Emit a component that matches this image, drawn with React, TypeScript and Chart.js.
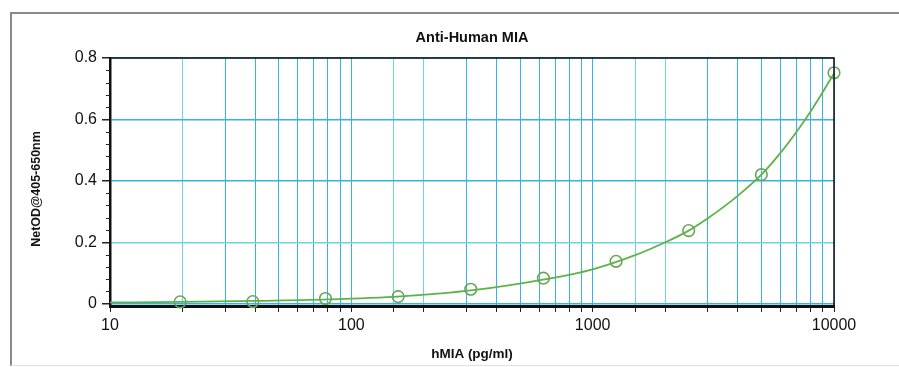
import React, { useEffect, useRef } from "react";
import { Chart, registerables } from "chart.js";

Chart.register(...registerables);

const chartTitle = "Anti-Human MIA";
const xTitle = "hMIA (pg/ml)";
const yTitle = "NetOD@405-650nm";

const stdConc = [19.53, 39.06, 78.13, 156.25, 312.5, 625, 1250, 2500, 5000, 10000];
const stdOD = [0.006, 0.007, 0.017, 0.023, 0.047, 0.083, 0.138, 0.238, 0.42, 0.752];

const curveConc = [10, 20, 40, 80, 160, 320, 640, 1000, 1500, 2000, 2500, 3000, 4000, 5000, 6000, 7000, 8000, 9000, 10000];
const curveOD = [0.004, 0.006, 0.009, 0.014, 0.024, 0.044, 0.08, 0.112, 0.158, 0.2, 0.238, 0.278, 0.352, 0.42, 0.491, 0.56, 0.626, 0.69, 0.75];

const yTicks = [0, 0.04, 0.08, 0.12, 0.16, 0.2, 0.24, 0.28, 0.32, 0.36, 0.4, 0.44, 0.48, 0.52, 0.56, 0.6, 0.64, 0.68, 0.72, 0.76, 0.8];
const yMajorLabels = ["0", "0.2", "0.4", "0.6", "0.8"];
const xMajorLabels = ["10", "100", "1000", "10000"];

const FONT = "Arial, 'Liberation Sans', sans-serif";
const BLUE = "rgb(55,178,228)";
const TEAL = "rgb(110,214,214)";

const isMajorY = (v: number) => Math.abs(v / 0.2 - Math.round(v / 0.2)) < 1e-6;
const yLabel = (v: number) => {
  const idx = Math.round(v / 0.2);
  return isMajorY(v) ? yMajorLabels[idx] ?? "" : "";
};
const isPow10 = (v: number) => Math.abs(Math.log10(v) - Math.round(Math.log10(v))) < 1e-6;
const leadDigit = (v: number) => Math.round(v / Math.pow(10, Math.floor(Math.log10(v) + 1e-9)));

const framePlugin = {
  id: "framePlugin",
  afterDatasetsDraw(chart: any) {
    const { ctx, chartArea } = chart;
    const { left, right, top, bottom } = chartArea;
    ctx.save();
    ctx.strokeStyle = "#111";
    ctx.lineWidth = 1.5;
    ctx.beginPath();
    ctx.moveTo(left, top);
    ctx.lineTo(right, top);
    ctx.lineTo(right, bottom);
    ctx.stroke();
    ctx.restore();
  },
  afterDraw(chart: any) {
    const { ctx, scales, chartArea } = chart;
    const y = scales.y;
    const x0 = chartArea.left;
    ctx.save();
    ctx.strokeStyle = "#222";
    ctx.lineWidth = 1;
    y.ticks.forEach((t: any) => {
      if (!isMajorY(t.value)) {
        const py = Math.round(y.getPixelForValue(t.value)) + 0.5;
        ctx.beginPath();
        ctx.moveTo(x0 - 4, py);
        ctx.lineTo(x0, py);
        ctx.stroke();
      }
    });
    // chart title centred over the plot area
    ctx.fillStyle = "#111";
    ctx.font = `bold 14.5px ${FONT}`;
    ctx.textAlign = "center";
    ctx.textBaseline = "middle";
    ctx.fillText(chartTitle, (chartArea.left + chartArea.right) / 2, 38);
    // y axis title
    ctx.font = `bold 12.5px ${FONT}`;
    ctx.translate(37, 189);
    ctx.rotate(-Math.PI / 2);
    ctx.fillText(yTitle, 0, 0);
    ctx.restore();
  },
};

export default function App() {
  const ref = useRef<HTMLCanvasElement | null>(null);

  useEffect(() => {
    if (!ref.current) return;
    const chart = new Chart(ref.current, {
      type: "scatter",
      data: {
        datasets: [
          {
            type: "line",
            data: curveConc.map((c, i) => ({ x: c, y: curveOD[i] })),
            borderColor: "rgb(92,180,72)",
            borderWidth: 1.8,
            pointRadius: 0,
            cubicInterpolationMode: "monotone",
            fill: false,
            order: 2,
          } as any,
          {
            type: "scatter",
            data: stdConc.map((c, i) => ({ x: c, y: stdOD[i] })),
            borderColor: "rgb(104,165,88)",
            backgroundColor: "rgba(0,0,0,0)",
            borderWidth: 1.6,
            pointRadius: 5.8,
            clip: false,
            order: 1,
          } as any,
        ],
      },
      options: {
        animation: false,
        responsive: false,
        maintainAspectRatio: false,
        layout: { padding: { left: 0, right: 65, top: 58, bottom: 0 } },
        plugins: {
          legend: { display: false },
          tooltip: { enabled: false },
          title: { display: false },
        },
        scales: {
          x: {
            type: "logarithmic",
            min: 10,
            max: 10000,
            afterFit: (s: any) => {
              s.height = 61;
            },
            ticks: {
              autoSkip: false,
              maxRotation: 0,
              color: "#111",
              font: { family: FONT, size: 16 },
              padding: 4,
              callback: (v: any) => {
                const n = Number(v);
                if (!isPow10(n)) return "";
                return xMajorLabels[Math.round(Math.log10(n)) - 1] ?? "";
              },
            },
            grid: {
              color: (c: any) => {
                const v = c.tick?.value;
                if (!v) return BLUE;
                return leadDigit(v) === 2 ? TEAL : BLUE;
              },
              lineWidth: 1,
              tickColor: "#222",
              tickLength: 6,
            },
            border: { color: "#111", width: 3 },
            title: {
              display: true,
              text: xTitle,
              color: "#111",
              font: { family: FONT, size: 13.5, weight: "bold" },
              padding: { top: 0, bottom: 5 },
            },
          },
          y: {
            type: "linear",
            min: -0.0075,
            max: 0.8,
            afterFit: (s: any) => {
              s.width = 110;
            },
            afterBuildTicks: (s: any) => {
              s.ticks = yTicks.map((v) => ({ value: v }));
            },
            ticks: {
              autoSkip: false,
              color: "#111",
              font: { family: FONT, size: 16 },
              padding: 5,
              callback: (v: any) => yLabel(Number(v)),
            },
            grid: {
              color: (c: any) => {
                const v = c.tick?.value;
                if (v === undefined || !isMajorY(v)) return "rgba(0,0,0,0)";
                if (Math.abs(v - 0.2) < 1e-6) return TEAL;
                return BLUE;
              },
              lineWidth: 1.5,
              tickColor: (c: any) => {
                const v = c.tick?.value;
                return v !== undefined && isMajorY(v) ? "#222" : "rgba(0,0,0,0)";
              },
              tickLength: 8,
            },
            border: { color: "#111", width: 2.5 },
            title: { display: false },
          },
        },
      },
      plugins: [framePlugin],
    });
    return () => chart.destroy();
  }, []);

  return (
    <div style={{ position: "absolute", left: 0, top: 0, width: 899, height: 367, background: "#fff" }}>
      <div
        style={{
          position: "absolute",
          left: 10,
          top: 12,
          width: 900,
          height: 351,
          borderLeft: "2px solid #8a8a8a",
          borderTop: "2px solid #8a8a8a",
          borderBottom: "1px solid #e2e2e2",
        }}
      />
      <canvas ref={ref} width={899} height={367} style={{ position: "absolute", left: 0, top: 0 }} />
    </div>
  );
}
